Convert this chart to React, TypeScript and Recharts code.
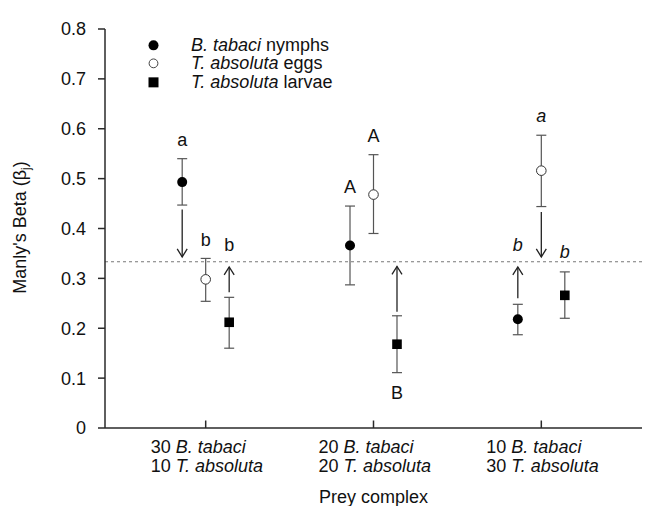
import React from 'react';
import {
  ComposedChart,
  Scatter,
  XAxis,
  YAxis,
  ErrorBar,
  ReferenceLine,
  Legend,
} from 'recharts';

const FONT = '"Liberation Sans", Arial, Helvetica, sans-serif';
const INK = '#111';
const AXIS = '#2a2a2a';

// ---- categories & tick labels ----
const categories = [1, 2, 3];
const bTabaciCounts = ['30', '20', '10'];
const tAbsolutaCounts = ['10', '20', '30'];
const yTicks = [0, 0.1, 0.2, 0.3, 0.4, 0.5, 0.6, 0.7, 0.8];

// ---- legend ----
const legendItalic = ['B. tabaci', 'T. absoluta', 'T. absoluta'];
const legendPlain = [' nymphs', ' eggs', ' larvae'];

// ---- series values (Manly's beta, mean and interval) ----
const nymphMean = [0.493, 0.366, 0.218];
const nymphLow = [0.447, 0.287, 0.187];
const nymphHigh = [0.54, 0.445, 0.248];

const eggMean = [0.298, 0.468, 0.516];
const eggLow = [0.254, 0.39, 0.444];
const eggHigh = [0.34, 0.548, 0.587];

const larvaMean = [0.212, 0.168, 0.266];
const larvaLow = [0.16, 0.111, 0.22];
const larvaHigh = [0.262, 0.225, 0.313];

// ---- significance letters ----
const nymphLetters = ['a', 'A', 'b'];
const nymphLetterY = [0.565, 0.472, 0.355];
const eggLetters = ['b', 'A', 'a'];
const eggLetterY = [0.3645, 0.573, 0.613];
const larvaLetters = ['b', 'B', 'b'];
const larvaLetterY = [0.355, 0.059, 0.34];
const italicLetters = [false, false, true];

// ---- arrows [from, to] ----
const nymphArrows = [[0.438, 0.343], null, [0.26, 0.323]];
const eggArrows = [null, null, [0.433, 0.343]];
const larvaArrows = [[0.272, 0.323], [0.233, 0.324], null];

const neutralSelection = 1 / 3;

// layout constant: dodge of series within a prey complex
const DODGE = [-0.14, 0, 0.14];

const buildPoints = (mean: number[], low: number[], high: number[], s: number) =>
  categories.map((c, i) => ({
    x: c + DODGE[s],
    y: mean[i],
    err: [mean[i] - low[i], high[i] - mean[i]],
  }));

const nymphData = buildPoints(nymphMean, nymphLow, nymphHigh, 0);
const eggData = buildPoints(eggMean, eggLow, eggHigh, 1);
const larvaData = buildPoints(larvaMean, larvaLow, larvaHigh, 2);

const letterData = [
  ...categories.map((c, i) => ({ x: c + DODGE[0], y: nymphLetterY[i], text: nymphLetters[i], italic: italicLetters[i] })),
  ...categories.map((c, i) => ({ x: c + DODGE[1], y: eggLetterY[i], text: eggLetters[i], italic: italicLetters[i] })),
  ...categories.map((c, i) => ({ x: c + DODGE[2], y: larvaLetterY[i], text: larvaLetters[i], italic: italicLetters[i] })),
];

const arrowData: { x: number; from: number; to: number }[] = [];
[nymphArrows, eggArrows, larvaArrows].forEach((arr, s) => {
  arr.forEach((a, i) => {
    if (a) arrowData.push({ x: categories[i] + DODGE[s], from: a[0], to: a[1] });
  });
});

const FilledCircle = (props: any) => (
  <circle cx={props.cx} cy={props.cy} r={5} fill="#000" />
);
const OpenCircle = (props: any) => (
  <circle cx={props.cx} cy={props.cy} r={4.8} fill="#fff" stroke="#333" strokeWidth={1} />
);
const FilledSquare = (props: any) => (
  <rect x={props.cx - 4.8} y={props.cy - 4.8} width={9.6} height={9.6} fill="#000" />
);

const LetterShape = (props: any) => {
  const p = props.payload || {};
  return (
    <text
      x={props.cx}
      y={props.cy}
      textAnchor="middle"
      fontSize={18}
      fontFamily={FONT}
      fontStyle={p.italic ? 'italic' : 'normal'}
      fill={INK}
    >
      {p.text}
    </text>
  );
};

const ArrowShape = (props: any) => {
  const { x1, y1, x2, y2 } = props;
  const dir = y2 > y1 ? 1 : -1;
  const hl = 8;
  const hw = 5;
  return (
    <g>
      <line x1={x1} y1={y1} x2={x2} y2={y2} stroke="#222" strokeWidth={1.3} />
      <polyline
        points={`${x2 - hw},${y2 - dir * hl} ${x2},${y2} ${x2 + hw},${y2 - dir * hl}`}
        fill="none"
        stroke="#222"
        strokeWidth={1.3}
      />
    </g>
  );
};

const XTick = (props: any) => {
  const { x, y, payload } = props;
  const i = categories.indexOf(payload.value);
  const left = x - 55;
  return (
    <g>
      <line x1={x} x2={x} y1={y} y2={y - 7.5} stroke={AXIS} strokeWidth={1.5} />
      <text x={left} y={y + 24.6} fontSize={18} fontFamily={FONT} fill={INK}>
        <tspan>{bTabaciCounts[i]}</tspan>
        <tspan fontStyle="italic">{' B. tabaci'}</tspan>
      </text>
      <text x={left} y={y + 44} fontSize={18} fontFamily={FONT} fill={INK}>
        <tspan>{tAbsolutaCounts[i]}</tspan>
        <tspan fontStyle="italic">{' T. absoluta'}</tspan>
      </text>
    </g>
  );
};

const YTitle = (props: any) => {
  const vb = props.viewBox || { x: 0, y: 21, width: 97, height: 399 };
  const cx = 17.5;
  const cy = vb.y + vb.height / 2 - 1;
  return (
    <text
      x={cx}
      y={cy}
      transform={`rotate(-90, ${cx}, ${cy})`}
      textAnchor="middle"
      fontSize={18}
      fontFamily={FONT}
      fill={INK}
    >
      <tspan>{"Manly's Beta (β"}</tspan>
      <tspan fontSize={12} dy={4}>j</tspan>
      <tspan dy={-4}>)</tspan>
    </text>
  );
};

const XTitle = (props: any) => {
  const vb = props.viewBox || { x: 97, y: 420, width: 537, height: 78 };
  return (
    <text
      x={vb.x + vb.width / 2}
      y={495}
      textAnchor="middle"
      fontSize={18}
      fontFamily={FONT}
      fill={INK}
    >
      Prey complex
    </text>
  );
};

const markerFor = (i: number, cx: number, cy: number) => {
  if (i === 0) return <circle cx={cx} cy={cy} r={5} fill="#000" />;
  if (i === 1) return <circle cx={cx} cy={cy} r={4.4} fill="#fff" stroke="#444" strokeWidth={1} />;
  return <rect x={cx - 5} y={cy - 5} width={10} height={10} fill="#000" />;
};

const LegendContent = () => (
  <div style={{ fontFamily: FONT, fontSize: 18, color: INK }}>
    {legendItalic.map((it, i) => (
      <div
        key={i}
        style={{ display: 'flex', alignItems: 'center', height: 18.7, lineHeight: '18.7px' }}
      >
        <svg width={15} height={18.7} style={{ display: 'block' }}>
          {markerFor(i, 7.5, 9.35)}
        </svg>
        <span style={{ marginLeft: 30, whiteSpace: 'nowrap' }}>
          <i>{it}</i>
          {legendPlain[i]}
        </span>
      </div>
    ))}
  </div>
);

export default function App() {
  return (
    <div style={{ width: 651, height: 498 }}>
      <ComposedChart
        width={651}
        height={498}
        margin={{ top: 21, right: 17, bottom: 0, left: 0 }}
        style={{ fontFamily: FONT }}
      >
        <XAxis
          type="number"
          dataKey="x"
          domain={[0.4, 3.6]}
          ticks={categories}
          interval={0}
          allowDataOverflow
          height={78}
          tickSize={0}
          tickMargin={0}
          tickLine={false}
          tick={<XTick />}
          axisLine={{ stroke: AXIS, strokeWidth: 1.5 }}
          label={XTitle}
        />
        <YAxis
          type="number"
          dataKey="y"
          domain={[0, 0.8]}
          ticks={yTicks}
          interval={0}
          allowDataOverflow
          width={97}
          tickSize={7}
          tickMargin={12}
          tickFormatter={(v: number) => (v === 0 ? '0' : v.toFixed(1))}
          tick={{ fill: INK, fontSize: 18, fontFamily: FONT }}
          tickLine={{ stroke: AXIS, strokeWidth: 1.5 }}
          axisLine={{ stroke: AXIS, strokeWidth: 1.5 }}
          label={YTitle}
        />
        <ReferenceLine
          y={neutralSelection}
          stroke="#777"
          strokeWidth={1}
          strokeDasharray="3 3"
        />
        {arrowData.map((a, i) => (
          <ReferenceLine
            key={`arrow-${i}`}
            segment={[
              { x: a.x, y: a.from },
              { x: a.x, y: a.to },
            ]}
            shape={ArrowShape}
          />
        ))}
        <Scatter
          name="B. tabaci nymphs"
          data={nymphData}
          shape={FilledCircle}
          isAnimationActive={false}
        >
          <ErrorBar dataKey="err" direction="y" width={5} stroke="#555" strokeWidth={1.2} isAnimationActive={false} />
        </Scatter>
        <Scatter
          name="T. absoluta eggs"
          data={eggData}
          shape={OpenCircle}
          isAnimationActive={false}
        >
          <ErrorBar dataKey="err" direction="y" width={5} stroke="#555" strokeWidth={1.2} isAnimationActive={false} />
        </Scatter>
        <Scatter
          name="T. absoluta larvae"
          data={larvaData}
          shape={FilledSquare}
          isAnimationActive={false}
        >
          <ErrorBar dataKey="err" direction="y" width={5} stroke="#555" strokeWidth={1.2} isAnimationActive={false} />
        </Scatter>
        <Scatter
          name="letters"
          data={letterData}
          shape={LetterShape}
          isAnimationActive={false}
          legendType="none"
        />
        <Legend
          layout="vertical"
          align="center"
          verticalAlign="middle"
          content={LegendContent}
          wrapperStyle={{ left: 138, top: 27.5, width: 'auto', height: 'auto' }}
        />
      </ComposedChart>
    </div>
  );
}
